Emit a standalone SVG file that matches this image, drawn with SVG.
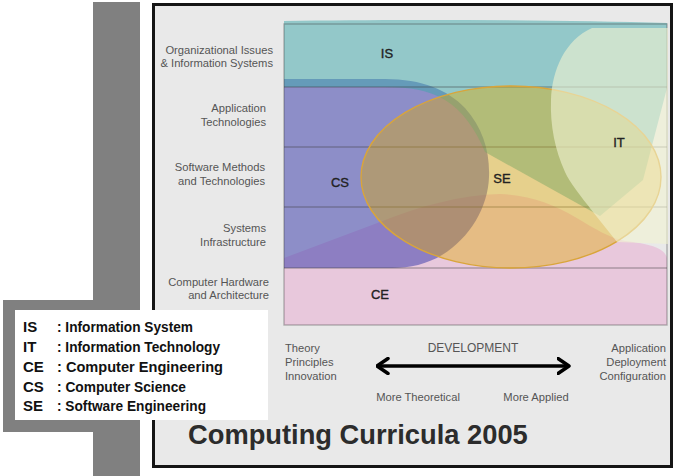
<svg xmlns="http://www.w3.org/2000/svg" width="678" height="476" viewBox="0 0 678 476">
<style>
  .row{font-family:"Liberation Sans",Arial,sans-serif;font-size:11.2px;fill:#555;text-anchor:end}
  .axis{font-family:"Liberation Sans",Arial,sans-serif;font-size:11.2px;fill:#555}
  .reg{font-family:"Liberation Sans",Arial,sans-serif;font-size:13px;fill:#222;stroke:#222;stroke-width:0.35;text-anchor:middle}
  .leg{font-family:"Liberation Sans",Arial,sans-serif;font-size:15px;font-weight:bold;fill:#111}
  .grid{stroke:#3c3c3c;stroke-opacity:0.35;stroke-width:1.4;fill:none}
</style>
<defs>
  <marker id="chev" viewBox="0 0 14 18" markerWidth="14" markerHeight="18" refX="12.5" refY="9" markerUnits="userSpaceOnUse" orient="auto-start-reverse">
    <path d="M1.5,1.5 L12.5,9 L1.5,16.5" fill="none" stroke="#000" stroke-width="3.5" stroke-linecap="round" stroke-linejoin="round"/>
  </marker>
</defs>
<rect width="678" height="476" fill="#fff"/>
<!-- gray side bar -->
<path id="sidebar" d="M93,2 H140 V476 H93 V432 H3 V300 H93 Z" fill="#808080"/>
<!-- frame -->
<rect id="frame" x="153.5" y="4.5" width="518" height="462" fill="#e9e9e9" stroke="#151515" stroke-width="3"/>

<g id="CE">
  <path d="M284,258 L380,222 C420,206 460,195 500,194 C530,195 555,205 575,217 C595,229 610,238 625,241 C650,244 665,248 667,258 L667,325 L284,325 Z" fill="#e8c8dc"/>
</g>
<g id="CS">
  <path d="M284,79 L385,79 C422,79 448,90 465,108 C483,128 490,152 489,177 C488,207 470,238 442,255 C427,264 410,268 392,268 L284,268 Z" fill="#3133a7" fill-opacity="0.5"/>
</g>
<g id="IS">
  <path d="M284,21 C400,19 560,20 667,23 L667,88 L643,180 L600,216 L485,152 C476,130 462,110 445,100 C428,90 410,87 385,87 L284,87 Z" fill="#3da7a9" fill-opacity="0.5"/>
</g>
<g id="gridlines">
  <rect x="284" y="24" width="383" height="301" class="grid"/>
  <path d="M284,87 H667 M284,147 H667 M284,207 H667 M284,268 H667" class="grid"/>
</g>
<g id="SE">
  <ellipse cx="511" cy="177" rx="150" ry="91" fill="#e1aa00" fill-opacity="0.4" stroke="#d9a53a" stroke-width="1.4"/>
</g>
<g id="IT">
  <path d="M592,28 L668,28 L668,244 L617,242 L593,212 C580,195 570,183 565,172 C555,150 550,125 551,100 C552,70 565,40 592,28 Z" fill="#f1f3d2" fill-opacity="0.6"/>
</g>

<g id="region-labels">
  <text class="reg" x="387" y="58">IS</text>
  <text class="reg" x="619" y="147">IT</text>
  <text class="reg" x="340" y="187">CS</text>
  <text class="reg" x="502" y="183">SE</text>
  <text class="reg" x="380" y="299">CE</text>
</g>

<g id="row-labels">
  <text class="row" x="273" y="54">Organizational Issues</text>
  <text class="row" x="273" y="67">&amp; Information Systems</text>
  <text class="row" x="266" y="112">Application</text>
  <text class="row" x="266" y="126">Technologies</text>
  <text class="row" x="265" y="171">Software Methods</text>
  <text class="row" x="265" y="185">and Technologies</text>
  <text class="row" x="266" y="232">Systems</text>
  <text class="row" x="266" y="246">Infrastructure</text>
  <text class="row" x="269" y="286">Computer Hardware</text>
  <text class="row" x="269" y="299">and Architecture</text>
</g>

<g id="axis-labels">
  <text class="axis" x="285" y="352">Theory</text>
  <text class="axis" x="285" y="366">Principles</text>
  <text class="axis" x="285" y="380">Innovation</text>
  <text class="axis" x="473" y="352" text-anchor="middle" style="font-size:12px">DEVELOPMENT</text>
  <text class="axis" x="418" y="401" text-anchor="middle">More Theoretical</text>
  <text class="axis" x="536" y="401" text-anchor="middle">More Applied</text>
  <text class="axis" x="666" y="352" text-anchor="end">Application</text>
  <text class="axis" x="666" y="366" text-anchor="end">Deployment</text>
  <text class="axis" x="666" y="380" text-anchor="end">Configuration</text>
</g>

<g id="connectors">
  <path d="M377,366 H569" fill="none" stroke="#000" stroke-width="3.5" marker-start="url(#chev)" marker-end="url(#chev)"/>
</g>

<g id="title">
  <text x="188" y="444" style="font-family:'Liberation Sans',Arial,sans-serif;font-size:27.3px;font-weight:bold;fill:#2c2c2c">Computing Curricula 2005</text>
</g>

<g id="legend">
  <rect x="15" y="310" width="253" height="110" fill="#fff"/>
  <text class="leg" x="23" y="332">IS</text>
  <text class="leg" x="57" y="332" textLength="136" lengthAdjust="spacingAndGlyphs">: Information System</text>
  <text class="leg" x="23" y="351.5">IT</text>
  <text class="leg" x="57" y="351.5" textLength="163" lengthAdjust="spacingAndGlyphs">: Information Technology</text>
  <text class="leg" x="23" y="371.5">CE</text>
  <text class="leg" x="57" y="371.5" textLength="166" lengthAdjust="spacingAndGlyphs">: Computer Engineering</text>
  <text class="leg" x="23" y="391.5">CS</text>
  <text class="leg" x="57" y="391.5" textLength="129" lengthAdjust="spacingAndGlyphs">: Computer Science</text>
  <text class="leg" x="23" y="411">SE</text>
  <text class="leg" x="57" y="411" textLength="149" lengthAdjust="spacingAndGlyphs">: Software Engineering</text>
</g>
</svg>
